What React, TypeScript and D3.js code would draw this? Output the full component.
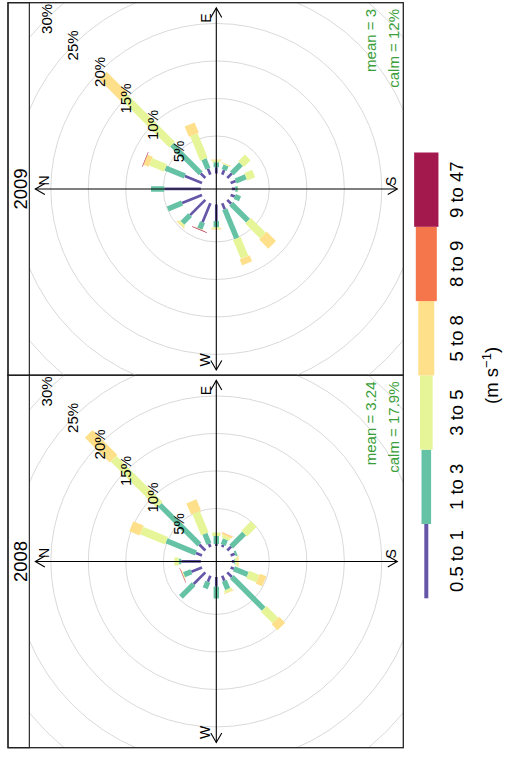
import * as d3 from "d3";

// wind directions (degrees, 16 sectors)
const directions = [0, 22.5, 45, 67.5, 90, 112.5, 135, 157.5, 180, 202.5, 225, 247.5, 270, 292.5, 315, 337.5];

const speedBins = ["0.5 to 1", "1 to 3", "3 to 5", "5 to 8", "8 to 9", "9 to 47"];
const binColours = ["#6656A8", "#66C2A5", "#E6F598", "#FEE08B", "#F5764A", "#A3184D"];

const gridTicks = [5, 10, 15, 20, 25, 30];

// % of hours per direction (rows) and speed bin (columns)
const freq2008 = [
  [2.6, 0.33, 0.6, 0, 0, 0],
  [0.87, 4.26, 3.6, 1.47, 0, 0],
  [1.13, 7.47, 8.73, 4.67, 0, 0],
  [0.47, 1.46, 3.07, 1.6, 0, 0],
  [0.27, 1.06, 0.47, 0, 0, 0],
  [0.33, 0.8, 0.4, 0.27, 0.03, 0],
  [0.73, 2.47, 1.8, 0, 0, 0],
  [0.6, 0.27, 0, 0, 0, 0],
  [0.33, 0.14, 0.26, 0.18, 0, 0],
  [0.47, 2.0, 1.46, 0.94, 0, 0],
  [0.87, 6.0, 2.2, 1.13, 0, 0],
  [0.73, 1.2, 0.34, 0.1, 0, 0],
  [1.27, 1.6, 0, 0, 0, 0],
  [0.87, 0.93, 0, 0, 0, 0],
  [2.2, 2.4, 0, 0, 0, 0],
  [1.53, 1.07, 0.07, 0.06, 0.03, 0.04],
];

const freq2009 = [
  [4.87, 1.77, 0, 0, 0, 0],
  [2.47, 2.8, 2.13, 0.73, 0.04, 0.06],
  [0.87, 5.42, 9.11, 3.93, 0, 0],
  [0.84, 1.4, 3.51, 1.49, 0, 0],
  [0.83, 0.66, 0.24, 0.14, 0, 0],
  [0.67, 0.66, 0.14, 0.06, 0, 0],
  [0.87, 1.73, 1.27, 0, 0, 0],
  [0.73, 1.47, 1.13, 0, 0, 0],
  [0.47, 0.33, 0.05, 0, 0, 0],
  [0.6, 0.76, 0, 0, 0, 0],
  [0.73, 3.2, 2.8, 1.74, 0, 0],
  [0.87, 4.2, 2.73, 0.87, 0, 0],
  [2.2, 0.84, 0.16, 0.13, 0, 0],
  [2.73, 0.94, 0.03, 0.03, 0.04, 0.07],
  [2.87, 1.46, 0.27, 0.13, 0, 0],
  [2.87, 2.06, 0, 0, 0, 0],
];

const years = ["2008", "2009"];
const means = ["3.24", "3"];
const calms = ["17.9%", "12%"];
const yearData = [freq2008, freq2009];

// figure is drawn landscape then turned a quarter turn
const FW = 758;
const FH = 508;
const font = "'Liberation Sans', Arial, sans-serif";

const frameLeft = 10.3;
const panelW = 372.5;
const stripTop = 8;
const stripBottom = 29.3;
const panelBottom = 403.3;
const cy = (stripBottom + panelBottom) / 2;
const barWidths = [2.7, 5.4, 8.1, 10.8, 13.5, 16.2];
const axisLen = 181;

const r = d3.scaleLinear().domain([0, 30]).range([15.5, 240.5]);

function barPath(cx: number, wd: number, from: number, to: number, w: number) {
  const t = (wd * Math.PI) / 180;
  const dx = Math.sin(t), dy = -Math.cos(t);
  const px = Math.cos(t), py = Math.sin(t);
  const r1 = r(from), r2 = r(to);
  const h = w / 2;
  const p = d3.path();
  p.moveTo(cx + r1 * dx - h * px, cy + r1 * dy - h * py);
  p.lineTo(cx + r1 * dx + h * px, cy + r1 * dy + h * py);
  p.lineTo(cx + r2 * dx + h * px, cy + r2 * dy + h * py);
  p.lineTo(cx + r2 * dx - h * px, cy + r2 * dy - h * py);
  p.closePath();
  return p.toString();
}

function arrowHead(tx: number, ty: number, dx: number, dy: number, len = 11) {
  const a = Math.PI / 6;
  const bx = -dx, by = -dy;
  const x1 = tx + len * (bx * Math.cos(a) - by * Math.sin(a));
  const y1 = ty + len * (bx * Math.sin(a) + by * Math.cos(a));
  const x2 = tx + len * (bx * Math.cos(-a) - by * Math.sin(-a));
  const y2 = ty + len * (bx * Math.sin(-a) + by * Math.cos(-a));
  return `M${x1},${y1}L${tx},${ty}L${x2},${y2}`;
}

function Panel({ i }: { i: number }) {
  const x0 = frameLeft + i * panelW;
  const cx = x0 + panelW / 2;
  const data = yearData[i];

  return (
    <g>
      <defs>
        <clipPath id={`clip${i}`}>
          <rect x={x0} y={stripBottom} width={panelW} height={panelBottom - stripBottom} />
        </clipPath>
      </defs>
      <g clipPath={`url(#clip${i})`}>
        {gridTicks.map((t) => (
          <circle key={t} cx={cx} cy={cy} r={r(t)} fill="none" stroke="#D9D9D9" strokeWidth={1} />
        ))}
        {directions.map((wd, di) => {
          const cum = d3.cumsum(data[di]);
          return data[di].map((v, bi) => {
            if (v <= 0) return null;
            const from = bi === 0 ? 0 : cum[bi - 1];
            return (
              <path key={`${di}-${bi}`} d={barPath(cx, wd, from, cum[bi], barWidths[bi])} fill={binColours[bi]} />
            );
          });
        })}
      </g>

      {/* axes */}
      <line x1={cx} y1={cy - axisLen} x2={cx} y2={cy + axisLen} stroke="#000" strokeWidth={1.1} />
      <line x1={cx - axisLen} y1={cy} x2={cx + axisLen} y2={cy} stroke="#000" strokeWidth={1.1} />
      <path d={arrowHead(cx, cy - axisLen, 0, -1)} fill="none" stroke="#000" strokeWidth={1.1} />
      <path d={arrowHead(cx, cy + axisLen, 0, 1)} fill="none" stroke="#000" strokeWidth={1.1} />
      <path d={arrowHead(cx + axisLen, cy, 1, 0)} fill="none" stroke="#000" strokeWidth={1.1} />
      <path d={arrowHead(cx - axisLen, cy, -1, 0)} fill="none" stroke="#000" strokeWidth={1.1} />
      <g fontFamily={font} fontSize={14} fill="#000">
        <text x={cx + 3.5} y={cy - 167}>N</text>
        <text x={cx + 171} y={cy - 5} textAnchor="middle">E</text>
        <text x={cx + 3} y={cy + 180}>S</text>
        <text x={cx - 171} y={cy - 6} textAnchor="middle">W</text>
      </g>

      {/* % labels */}
      <g fontFamily={font} fontSize={15} fill="#000" textAnchor="middle">
        {gridTicks.map((t) => (
          <text
            key={t}
            x={cx + r(t) * Math.SQRT1_2}
            y={cy - r(t) * Math.SQRT1_2}
            dominantBaseline="central"
          >
            {`${t}%`}
          </text>
        ))}
      </g>

      <g fontFamily={font} fontSize={15} fill="#3A9E3A" textAnchor="end">
        <text x={cx + 180} y={cy + 159.5}>{`mean = ${means[i]}`}</text>
        <text x={cx + 180} y={cy + 182.5}>{`calm = ${calms[i]}`}</text>
      </g>

      {/* strip */}
      <rect x={x0} y={stripTop} width={panelW} height={stripBottom - stripTop} fill="#fff" stroke="#000" strokeWidth={1} />
      <text x={cx} y={26.7} textAnchor="middle" fontFamily={font} fontSize={18.5}>
        {years[i]}
      </text>
      <rect x={x0} y={stripTop} width={panelW} height={panelBottom - stripTop} fill="none" stroke="#222" strokeWidth={1.3} />
    </g>
  );
}

function Legend() {
  const lx = d3.scaleBand().domain(speedBins).range([159.7, 605.5]);
  const lw = [4, 9.6, 12.7, 16, 21, 24.3];
  const ly = 426.3;
  return (
    <g>
      {speedBins.map((b, i) => (
        <rect key={b} x={lx(b)} y={ly - lw[i] / 2} width={lx.bandwidth()} height={lw[i]} fill={binColours[i]} />
      ))}
      <g fontFamily={font} fontSize={18.5} textAnchor="middle">
        {speedBins.map((b) => (
          <text key={b} x={(lx(b) as number) + lx.bandwidth() / 2} y={463}>
            {b}
          </text>
        ))}
        <text x={382.6} y={498}>
          (m s<tspan dy={-7} fontSize={13}>−1</tspan>
          <tspan dy={7}>)</tspan>
        </text>
      </g>
    </g>
  );
}

export default function App() {
  return (
    <svg width={508} height={758} style={{ position: "absolute", left: 0, top: 0, background: "#fff" }}>
      <rect width={508} height={758} fill="#fff" />
      <g transform={`translate(0,${FW}) rotate(-90)`}>
        <rect width={FW} height={FH} fill="#fff" />
        {years.map((y, i) => (
          <Panel key={y} i={i} />
        ))}
        <Legend />
      </g>
    </svg>
  );
}
